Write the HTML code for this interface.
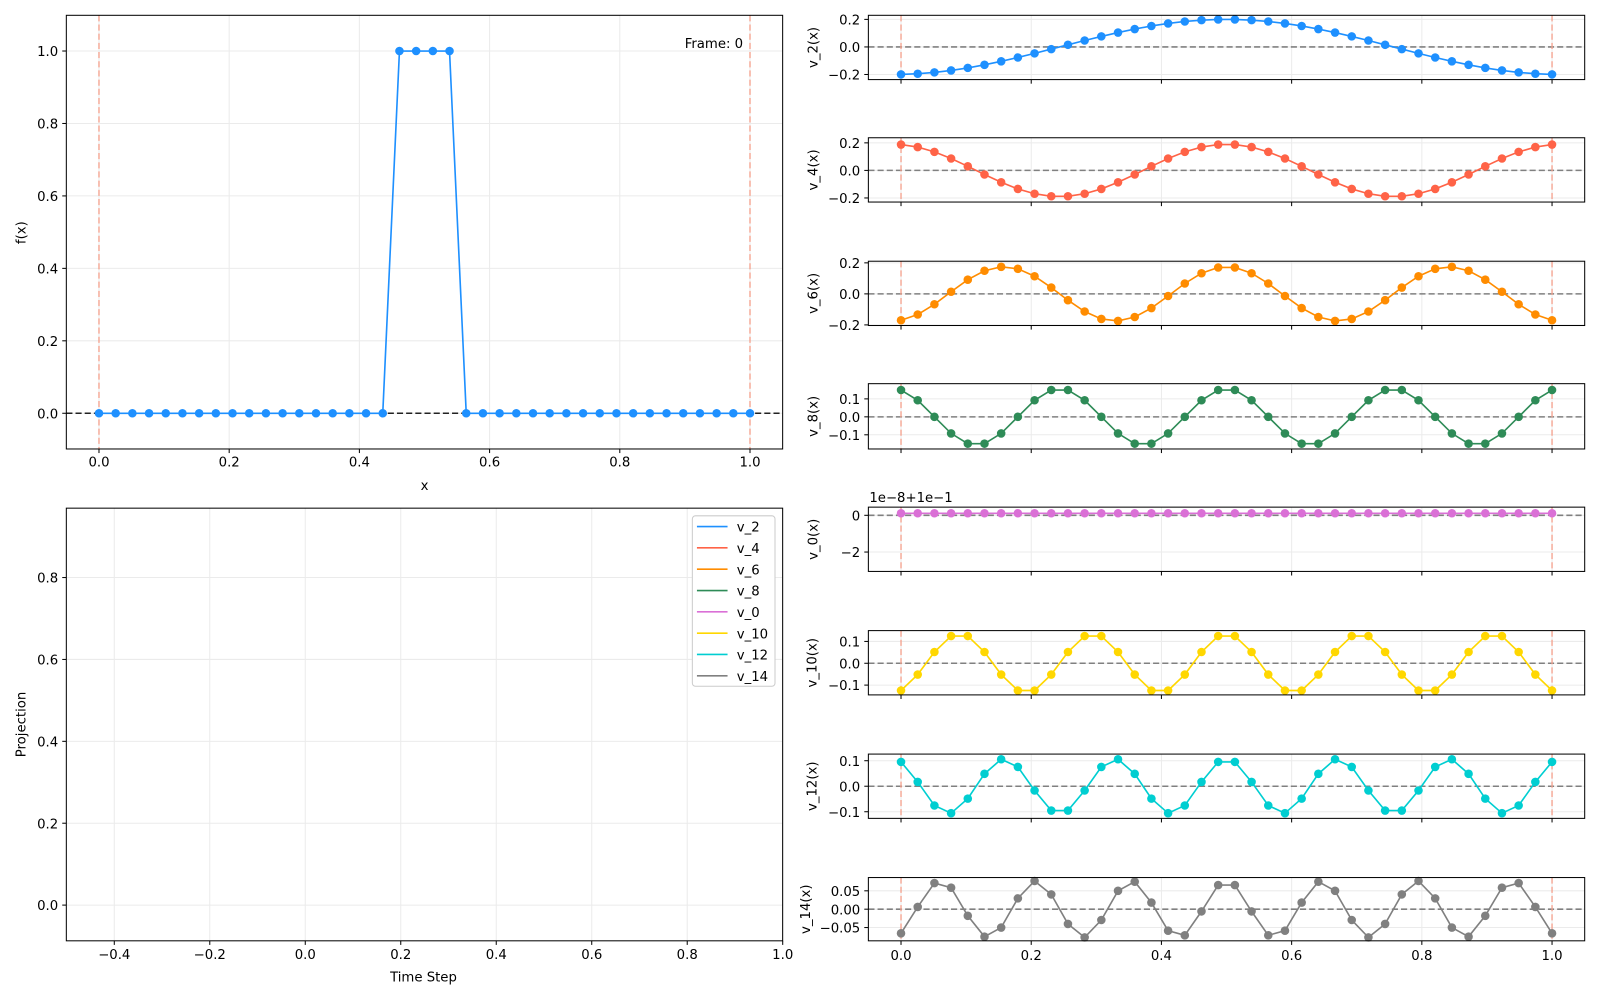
<!DOCTYPE html>
<html><head><meta charset="utf-8"><style>html,body{margin:0;padding:0;background:#fff}svg{display:block}text{font-family:"DejaVu Sans","Liberation Sans",sans-serif;fill:#000}</style></head>
<body>
<svg id="s" width="1600" height="1000" viewBox="0 0 1568 980" xmlns="http://www.w3.org/2000/svg"></svg>
<script>
const S=document.getElementById('s');let h='';
const N=40,xs=[...Array(N).keys()].map(i=>i/39);
function T(x,y,t,o){o=o||{};h+=`<text x="${x}" y="${y}" font-size="${o.fs||13}" text-anchor="${o.a||'middle'}" ${o.r?`transform="rotate(-90 ${x} ${y})"`:''}>${t}</text>`;}
function L(x1,y1,x2,y2,c,w,d){h+=`<line x1="${x1}" y1="${y1}" x2="${x2}" y2="${y2}" stroke="${c}" stroke-width="${w||1}" ${d?`stroke-dasharray="${d}"`:''}/>`;}
// main top-left
{const X=v=>97+v*638,Y=v=>405-v*355;
[0,.2,.4,.6,.8,1].forEach(v=>{L(X(v),15,X(v),440,'#ebebeb');T(X(v),457,v.toFixed(1));L(X(v),440,X(v),444,'#000');});
[0,.2,.4,.6,.8,1].forEach(v=>{L(65,Y(v),767,Y(v),'#ebebeb');T(57,Y(v)+5,v.toFixed(1),{a:'end'});L(61,Y(v),65,Y(v),'#000');});
L(65,405,767,405,'#222',1.5,'6,3');
L(X(0),15,X(0),440,'#f4a08c',1.3,'6,3');L(X(1),15,X(1),440,'#f4a08c',1.3,'6,3');
const f=xs.map((x,i)=>i>=18&&i<=21?1:0);
h+=`<polyline fill="none" stroke="#1e90ff" stroke-width="1.6" points="${xs.map((x,i)=>X(x)+','+Y(f[i])).join(' ')}"/>`;
xs.forEach((x,i)=>h+=`<circle cx="${X(x)}" cy="${Y(f[i])}" r="4.2" fill="#1e90ff"/>`);
h+=`<rect x="65" y="15" width="702" height="425" fill="none" stroke="#000" stroke-width="1"/>`;
T(416,480,'x');T(25,228,'f(x)',{r:1});T(671,47,'Frame: 0',{a:'start'});}
// bottom-left
{const X=v=>112+(v+0.4)*467.9,Y=v=>887-v*401.25;
[-.4,-.2,0,.2,.4,.6,.8,1].forEach(v=>{L(X(v),498,X(v),922,'#ebebeb');T(X(v),940,v.toFixed(1).replace('-','−'));L(X(v),922,X(v),926,'#000');});
[0,.2,.4,.6,.8].forEach(v=>{L(65,Y(v),767,Y(v),'#ebebeb');T(57,Y(v)+5,v.toFixed(1),{a:'end'});L(61,Y(v),65,Y(v),'#000');});
h+=`<rect x="65" y="498" width="702" height="424" fill="none" stroke="#000"/>`;
T(415,962,'Time Step');T(25,710,'Projection',{r:1});
h+=`<rect x="678.5" y="505.5" width="81" height="167" rx="3" fill="#fff" stroke="#ccc"/>`;
const lg=[['v_2','#1e90ff'],['v_4','#ff6347'],['v_6','#ff8c00'],['v_8','#2e8b57'],['v_0','#da70d6'],['v_10','#ffd700'],['v_12','#00ced1'],['v_14','#808080']];
lg.forEach((g,i)=>{const y=516+i*20.9;L(683,y,713,y,g[1],1.6);T(722,y+5,g[0],{a:'start'});});}
// right panels
const P=[
['v_2(x)','#1e90ff',2,-0.2,15,78,46,135,[[.2,'0.2'],[0,'0.0'],[-.2,'−0.2']]],
['v_4(x)','#ff6347',4,0.19,135,198,167,135,[[.2,'0.2'],[0,'0.0'],[-.2,'−0.2']]],
['v_6(x)','#ff8c00',6,-0.175,256,319,288,152,[[.2,'0.2'],[0,'0.0'],[-.2,'−0.2']]],
['v_8(x)','#2e8b57',8,0.157,376,440,408.5,176,[[.1,'0.1'],[0,'0.0'],[-.1,'−0.1']]],
['v_0(x)','#da70d6',0,0,497,560,505,18,[[0,'0'],[-2,'−2']]],
['v_10(x)','#ffd700',10,-0.135,618,681,650,214,[[.1,'0.1'],[0,'0.0'],[-.1,'−0.1']]],
['v_12(x)','#00ced1',12,0.107,739,802,770.5,250,[[.1,'0.1'],[0,'0.0'],[-.1,'−0.1']]],
['v_14(x)','#808080',14,-0.077,860,922,891,360,[[.05,'0.05'],[0,'0.00'],[-.05,'−0.05']]]];
P.forEach((p,k)=>{const[lab,c,m,A,t,b,y0,sc,tk]=p;const X=v=>883+v*638,Y=v=>y0-v*sc;
[0,.2,.4,.6,.8,1].forEach(v=>{L(X(v),t,X(v),b,'#ebebeb');L(X(v),b,X(v),b+4,'#000');if(k==7)T(X(v),b+19,v.toFixed(1));});
tk.forEach(q=>{L(851,Y(q[0]),1553,Y(q[0]),'#ebebeb');L(847,Y(q[0]),851,Y(q[0]),'#000');T(843,Y(q[0])+5,q[1],{a:'end'});});
L(851,y0,1553,y0,'#808080',1.5,'6,3');
L(X(0),t,X(0),b,'#f4a08c',1.3,'6,3');L(X(1),t,X(1),b,'#f4a08c',1.3,'6,3');
const ys=xs.map((x,i)=>m==0?503:Y(A*Math.cos(Math.PI*m*(i+0.5)/40)));
h+=`<polyline fill="none" stroke="${c}" stroke-width="1.6" points="${xs.map((x,i)=>X(x)+','+ys[i]).join(' ')}"/>`;
xs.forEach((x,i)=>h+=`<circle cx="${X(x)}" cy="${ys[i]}" r="4.2" fill="${c}"/>`);
h+=`<rect x="851" y="${t}" width="702" height="${b-t}" fill="none" stroke="#000"/>`;
T(m==14?794:(m>=10?800:801),(t+b)/2,lab,{r:1});
if(m==0)T(852,492,'1e−8+1e−1',{a:'start'});});
S.innerHTML=h;
</script>
</body></html>
